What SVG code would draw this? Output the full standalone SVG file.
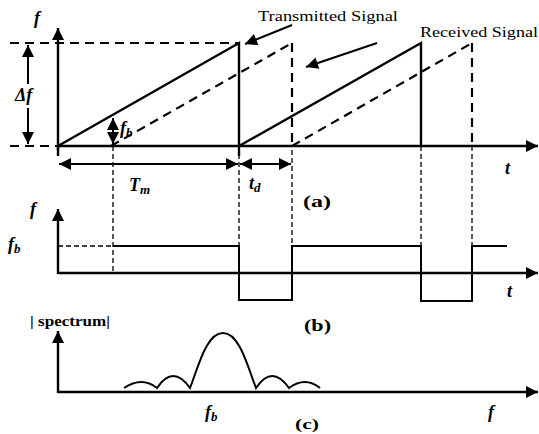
<svg xmlns="http://www.w3.org/2000/svg" width="539" height="434" viewBox="0 0 539 434">
<style>
.s{stroke:#000;stroke-width:2.4;fill:none}
.d{stroke:#000;stroke-width:2.2;fill:none;stroke-dasharray:9 6}
.t{stroke:#000;stroke-width:1.3;fill:none;stroke-dasharray:5 3}
.ar{stroke:#000;stroke-width:2;fill:none}
text{font-family:'Liberation Serif','Times New Roman','DejaVu Serif',serif;fill:#000}
.v{font-style:italic;font-weight:bold;font-size:18px}
.l{font-size:15px}
.p{font-weight:bold;font-size:17px}
</style>
<defs>
<marker id="ab" viewBox="0 0 10 10" refX="10" refY="5" markerWidth="14" markerHeight="12" orient="auto-start-reverse" markerUnits="userSpaceOnUse">
<path d="M0,0 L10,5 L0,10 z" fill="#000"/>
</marker>
</defs>
<g id="connectors">
<line class="s" x1="58" y1="150" x2="58" y2="28" marker-end="url(#ab)"/>
<line class="s" x1="58" y1="146" x2="538" y2="146" marker-end="url(#ab)"/>
<line class="d" x1="10" y1="43" x2="239" y2="43"/>
<line class="d" x1="10" y1="146" x2="58" y2="146"/>
<polyline class="s" points="58,146 239,43 239,146"/>
<polyline class="s" points="239,146 421,43 421,146"/>
<line class="d" x1="111" y1="146" x2="292" y2="43"/>
<line class="d" x1="292" y1="146" x2="472" y2="43"/>
<line class="d" x1="292" y1="43" x2="292" y2="146"/>
<line class="d" x1="472" y1="43" x2="472" y2="146"/>
<line class="ar" x1="28" y1="84" x2="28" y2="45" marker-end="url(#ab)"/>
<line class="ar" x1="28" y1="108" x2="28" y2="144" marker-end="url(#ab)"/>
<line class="ar" x1="113" y1="118" x2="113" y2="144" marker-start="url(#ab)" marker-end="url(#ab)"/>
<line class="ar" x1="59" y1="164" x2="238" y2="164" marker-start="url(#ab)" marker-end="url(#ab)"/>
<line class="ar" x1="240" y1="164" x2="291" y2="164" marker-start="url(#ab)" marker-end="url(#ab)"/>
<line class="s" x1="58" y1="146" x2="58" y2="156"/>
<line class="s" x1="239" y1="146" x2="239" y2="156"/>
<line class="ar" x1="292" y1="25" x2="245" y2="44" marker-end="url(#ab)"/>
<line class="ar" x1="377" y1="43" x2="306" y2="67" marker-end="url(#ab)"/>
<line class="t" x1="113" y1="146" x2="113" y2="273"/>
<line class="t" x1="239" y1="146" x2="239" y2="246"/>
<line class="t" x1="292" y1="150" x2="292" y2="246"/>
<line class="t" x1="421" y1="146" x2="421" y2="246"/>
<line class="t" x1="472" y1="146" x2="472" y2="246"/>
<line class="s" x1="58" y1="274" x2="58" y2="209" marker-end="url(#ab)"/>
<line class="s" x1="58" y1="273" x2="538" y2="273" marker-end="url(#ab)"/>
<line class="t" x1="58" y1="246" x2="113" y2="246"/>
<polyline class="s" style="stroke-width:2" points="113,246 239,246 239,300 292,300 292,246 421,246 421,301 472,301 472,246 507,246"/>
<line class="s" x1="58" y1="393" x2="58" y2="331" marker-end="url(#ab)"/>
<line class="s" x1="58" y1="392" x2="538" y2="392" marker-end="url(#ab)"/>
<path class="s" style="stroke-width:2" d="M124,388 Q142,376 157,388 Q173,364 190,388 C198,368 206,333 223,333 C240,333 248,368 256,388 Q272,364 289,388 Q305,376 320,388"/>
</g>
<g id="labels">
<text class="v" x="34" y="24">f</text>
<text class="v" x="15" y="101">Δf</text>
<text class="v" x="120" y="134">f<tspan font-size="13" dy="3">b</tspan></text>
<text class="v" x="129" y="191">T<tspan font-size="13" dy="3">m</tspan></text>
<text class="v" x="249" y="189">t<tspan font-size="13" dy="3">d</tspan></text>
<text class="v" x="505" y="174">t</text>
<text class="p" x="303" y="207" textLength="28" lengthAdjust="spacingAndGlyphs">(a)</text>
<text class="l" x="258" y="21" textLength="140" lengthAdjust="spacingAndGlyphs">Transmitted Signal</text>
<text class="l" x="420" y="37" textLength="118" lengthAdjust="spacingAndGlyphs">Received Signal</text>
<text class="v" x="30" y="215">f</text>
<text class="v" x="8" y="250">f<tspan font-size="13" dy="3">b</tspan></text>
<text class="v" x="507" y="297">t</text>
<text class="p" x="304" y="331" textLength="27" lengthAdjust="spacingAndGlyphs">(b)</text>
<text x="30" y="326" style="font-weight:bold;font-size:15px" textLength="80" lengthAdjust="spacingAndGlyphs">| spectrum|</text>
<text class="v" x="205" y="418">f<tspan font-size="13" dy="3">b</tspan></text>
<text class="p" x="295" y="429" style="font-size:15px" textLength="24" lengthAdjust="spacingAndGlyphs">(c)</text>
<text class="v" x="488" y="418">f</text>
</g>
</svg>
